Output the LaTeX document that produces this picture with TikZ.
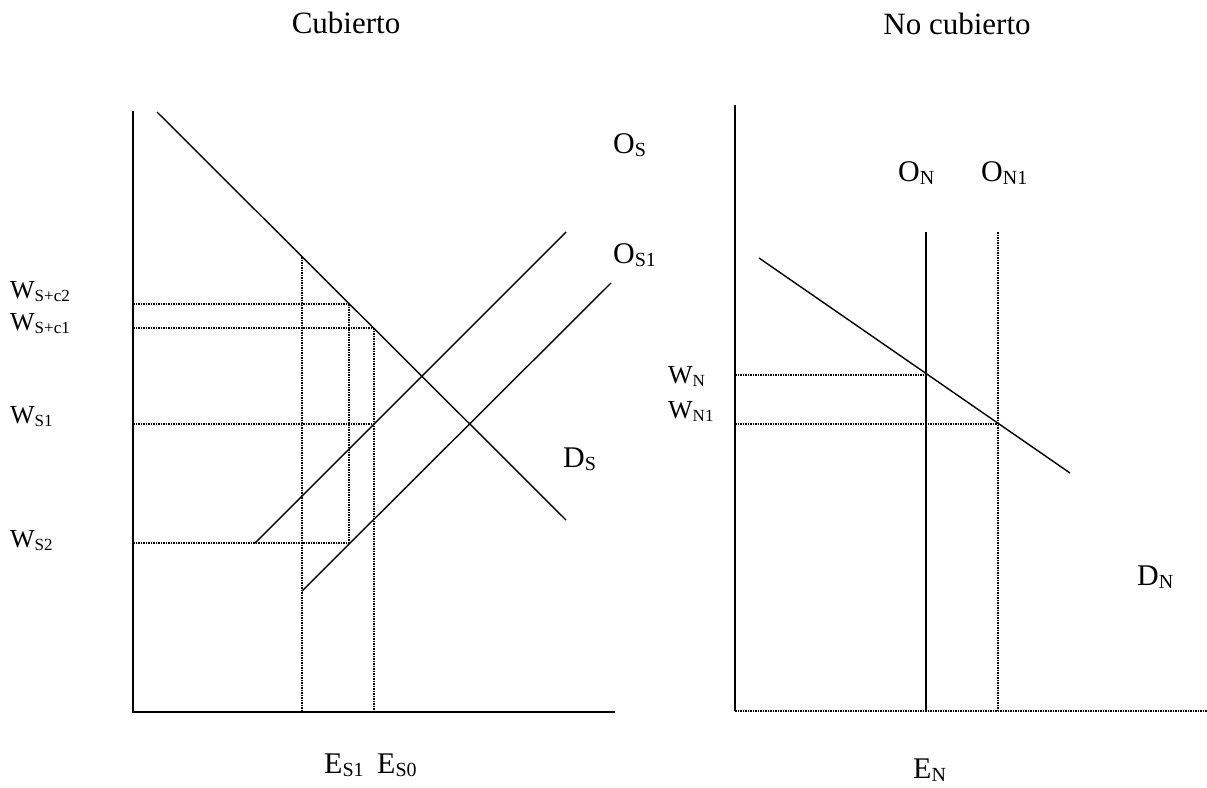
\documentclass[tikz,border=0pt]{standalone}
\usepackage{fontspec}
\setmainfont{Liberation Serif}
\newcommand{\lsub}[1]{\raisebox{-3pt}{\fontsize{20}{20}\selectfont #1}}
\newcommand{\wsub}[1]{\raisebox{-3.5pt}{\fontsize{17}{17}\selectfont #1}}
\tikzset{
  axisline/.style={line width=2pt},
  curve/.style={line width=1.4pt},
  dotline/.style={line width=1.5pt, dash pattern=on 1.5pt off 1pt},
  lbl/.style={anchor=base west, inner sep=0pt, font=\fontsize{30}{32}\selectfont},
  wlbl/.style={anchor=base west, inner sep=0pt, font=\fontsize{26}{28}\selectfont},
  ttl/.style={anchor=base, inner sep=0pt, font=\fontsize{31}{33}\selectfont}
}
\begin{document}
\begin{tikzpicture}[x=1pt,y=-1pt]
\useasboundingbox[fill=white] (0,0) rectangle (1207,787);
% titles
\node[ttl] (t1) at (346,33) {Cubierto};
\node[ttl] (t2) at (957,34) {No cubierto};
% ---------- left panel ----------
\coordinate (lo) at (133,712);
\coordinate (ltop) at (133,111);
\coordinate (lxr) at (615,712);
\coordinate (ds1) at (157,112);
\coordinate (ds2) at (566,520);
\coordinate (os1) at (255,543);
\coordinate (os2) at (566,232);
\coordinate (osa) at (302,591);
\coordinate (osb) at (611,283);
\coordinate (yc2) at (133,304);
\coordinate (yc1) at (133,328);
\coordinate (ys1) at (133,424);
\coordinate (ys2) at (133,543);
\coordinate (pc2) at (349,304);
\coordinate (pc1) at (374,328);
\coordinate (ps1) at (374,424);
\coordinate (ps2) at (349,543);
\coordinate (v1t) at (302,257);
\coordinate (v1b) at (302,712);
\coordinate (v2b) at (374,712);
\draw[axisline] (ltop) -- (lo) -- (lxr);
\draw[curve] (ds1) -- (ds2);
\draw[curve] (os1) -- (os2);
\draw[curve] (osa) -- (osb);
\draw[dotline] (yc2) -- (pc2);
\draw[dotline] (yc1) -- (pc1);
\draw[dotline] (ys1) -- (ps1);
\draw[dotline] (ys2) -- (ps2);
\draw[dotline] (v1t) -- (v1b);
\draw[dotline] (pc2) -- (ps2);
\draw[dotline] (pc1) -- (v2b);
% labels left
\node[lbl] (OS) at (613,153) {O\lsub{S}};
\node[lbl] (OS1) at (613,263) {O\lsub{S1}};
\node[lbl] (DS) at (563,467) {D\lsub{S}};
\node[wlbl] (Wc2) at (10,298) {W\wsub{S+c2}};
\node[wlbl] (Wc1) at (10,330) {W\wsub{S+c1}};
\node[wlbl] (WS1) at (10,423) {W\wsub{S1}};
\node[wlbl] (WS2) at (10,547) {W\wsub{S2}};
\node[lbl] (ES1) at (324,773) {E\lsub{S1}};
\node[lbl] (ES0) at (377,773) {E\lsub{S0}};
% ---------- right panel ----------
\coordinate (ro) at (735,711);
\coordinate (rtop) at (735,105);
\coordinate (rxr) at (1207,711);
\coordinate (ont) at (926,232);
\coordinate (onb) at (926,711);
\coordinate (on1t) at (998,232);
\coordinate (on1b) at (998,711);
\coordinate (dn1) at (759,258);
\coordinate (dn2) at (1070,473);
\coordinate (ywn) at (735,375);
\coordinate (pwn) at (926,375);
\coordinate (ywn1) at (735,424);
\coordinate (pwn1) at (998,424);
\draw[axisline] (rtop) -- (ro);
\draw[dotline] (ro) -- (rxr);
\draw[curve] (ont) -- (onb);
\draw[dotline] (on1t) -- (on1b);
\draw[curve] (dn1) -- (dn2);
\draw[dotline] (ywn) -- (pwn);
\draw[dotline] (ywn1) -- (pwn1);
% labels right
\node[lbl] (ON) at (898,181) {O\lsub{N}};
\node[lbl] (ON1) at (981,181) {O\lsub{N1}};
\node[wlbl] (WN) at (668,383) {W\wsub{N}};
\node[wlbl] (WN1) at (668,418) {W\wsub{N1}};
\node[lbl] (DN) at (1137,585) {D\lsub{N}};
\node[lbl] (EN) at (913,778) {E\lsub{N}};
\end{tikzpicture}
\end{document}
